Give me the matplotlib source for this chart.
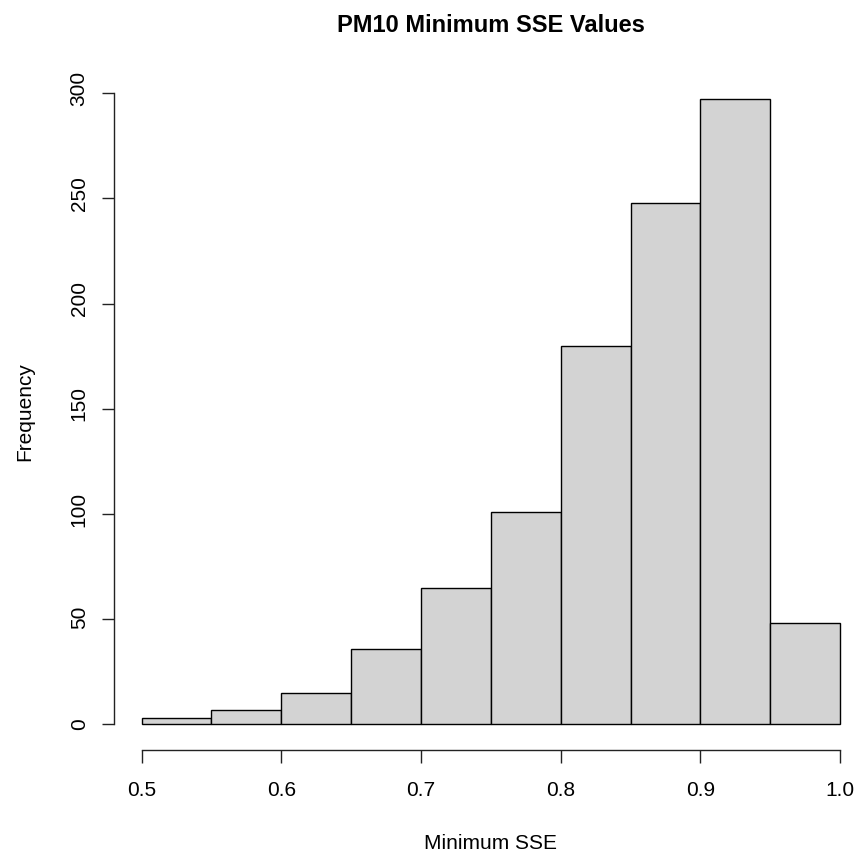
import matplotlib
matplotlib.use("Agg")
import matplotlib.pyplot as plt
import matplotlib.transforms as mtransforms
import numpy as np

plt.rcParams['font.family'] = ['Liberation Sans', 'DejaVu Sans']

breaks = [0.50, 0.55, 0.60, 0.65, 0.70, 0.75, 0.80, 0.85, 0.90, 0.95, 1.00]
counts = [3, 7, 15, 36, 65, 101, 180, 248, 297, 48]
x_ticks = [0.5, 0.6, 0.7, 0.8, 0.9, 1.0]
x_tick_labels = ["0.5", "0.6", "0.7", "0.8", "0.9", "1.0"]
y_ticks = [0, 50, 100, 150, 200, 250, 300]
title = "PM10 Minimum SSE Values"
xlabel = "Minimum SSE"
ylabel = "Frequency"

W, H = 859, 858
fig = plt.figure(figsize=(W / 100, H / 100), dpi=100)
left_px, right_px, top_px, bottom_px = 113.7, 868.0, 74.4, 749.5
ax = fig.add_axes([left_px / W, 1 - bottom_px / H,
                   (right_px - left_px) / W, (bottom_px - top_px) / H])

lefts = np.array(breaks[:-1])
widths = np.diff(breaks)
ax.bar(lefts, counts, width=widths, align='edge', color='#D3D3D3',
       edgecolor='black', linewidth=1.0)

rng = breaks[-1] - breaks[0]
ax.set_xlim(breaks[0] - 0.04 * rng, breaks[-1] + 0.04 * rng)
ymax = max(counts)
ax.set_ylim(-0.04 * ymax, ymax * 1.04)

for s in ['top', 'right']:
    ax.spines[s].set_visible(False)
ax.spines['left'].set_bounds(0, 300)
ax.spines['bottom'].set_bounds(0.5, 1.0)
for s in ['left', 'bottom']:
    ax.spines[s].set_linewidth(1.0)
    ax.spines[s].set_color('#222222')

ax.set_xticks(x_ticks)
ax.set_xticklabels(x_tick_labels)
ax.set_yticks(y_ticks)
ax.set_yticklabels([str(v) for v in y_ticks], rotation=90, va='center')
ax.tick_params(axis='both', length=9, width=1.0, color='#222222',
               labelsize=15, labelcolor='black')
ax.tick_params(axis='x', pad=13.5)
ax.tick_params(axis='y', pad=9)

# R-like slight upward shift of longer rotated labels
for lab in ax.get_yticklabels():
    n = len(lab.get_text())
    off = mtransforms.ScaledTranslation(0, (n - 1) * 2.4 / 100, fig.dpi_scale_trans)
    lab.set_transform(lab.get_transform() + off)

cx = (left_px + right_px) / 2 / W
fig.text(cx, 1 - 31.7 / H, title, ha='center', va='baseline',
         fontsize=17, fontweight='bold')
fig.text(cx, 1 - 849 / H, xlabel, ha='center', va='baseline', fontsize=15)
fig.text(30 / W, 1 - 411.5 / H, ylabel, ha='center', va='baseline',
         fontsize=15, rotation=90, rotation_mode='anchor')

fig.savefig("out.png", dpi=100)
